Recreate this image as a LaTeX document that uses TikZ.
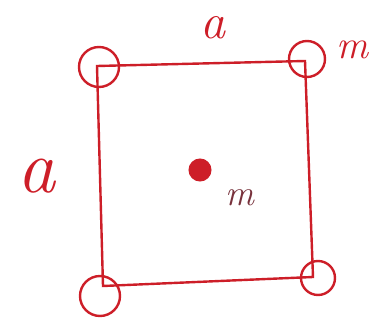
\documentclass[tikz,border=0pt]{standalone}
\usepackage{fontspec}
\usetikzlibrary{calc}
\definecolor{ink}{RGB}{205,30,40}
\definecolor{darkink}{RGB}{120,50,60}
\tikzset{
  edge/.style={draw=ink, line width=2.4pt, line cap=round},
  mass/.style={circle, draw=ink, line width=2.4pt, inner sep=0pt},
  lbl/.style={text=ink, font=\fontsize{40}{40}\selectfont\itshape, inner sep=0pt},
}
\begin{document}
\begin{tikzpicture}[x=1pt,y=-1pt]
\useasboundingbox (0,0) rectangle (372,323);
% square corners
\coordinate (TL) at (97,66);
\coordinate (TR) at (305,61);
\coordinate (BR) at (313,277);
\coordinate (BL) at (103,286);
\draw[edge] (TL) -- (TR) -- (BR) -- (BL) -- cycle;
% corner masses
\node[mass, minimum size=40pt] (mTL) at (99,67) {};
\node[mass, minimum size=36pt] (mTR) at (307,59) {};
\node[mass, minimum size=40pt] (mBL) at (100,296) {};
\node[mass, minimum size=34pt] (mBR) at (318,278) {};
% centre mass
\node[circle, fill=ink, draw=ink, line width=1pt, minimum size=22pt, inner sep=0pt] (mC) at (200,170) {};
% labels
\node[lbl, font=\fontsize{50}{50}\selectfont\itshape] (aTop) at (213,28) {a};
\node[lbl, font=\fontsize{76}{76}\selectfont\itshape] (aLeft) at (36,176) {a};
\node[lbl] (mTop) at (352,50) {m};
\node[lbl, text=darkink, font=\fontsize{36}{36}\selectfont\itshape] (mCen) at (240,198) {m};
\end{tikzpicture}
\end{document}
